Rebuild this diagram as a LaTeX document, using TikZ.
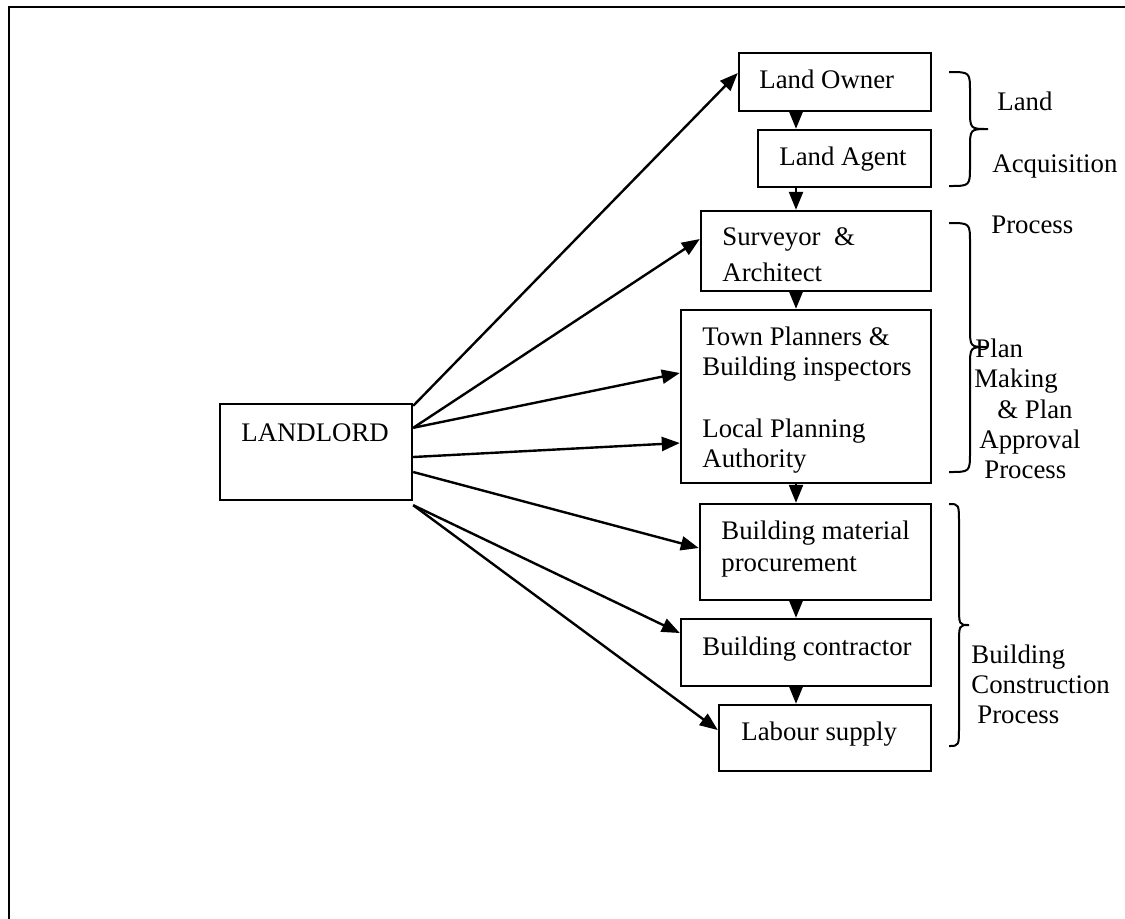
\documentclass[tikz,border=0pt]{standalone}
\usepackage{fontspec}
\setmainfont{Liberation Serif}
\usetikzlibrary{arrows.meta,calc}
\tikzset{
  box/.style={draw, line width=1.2pt, rectangle, inner sep=0pt},
  txt/.style={anchor=base west, inner sep=0pt, font=\fontsize{13.4pt}{15pt}\selectfont},
  arr/.style={line width=1.2pt, -{Triangle[length=9pt,width=7pt]}},
  brace/.style={line width=1pt},
  frame/.style={line width=1.4pt}
}
\newcommand\drawbrace[6]{% x0 x1 x2 ytop ymid ybot
  \draw[brace] (#1,#4) .. controls (#2,#4) .. (#2,#4+20) -- (#2,#5-20)
    .. controls (#2,#5) .. (#3,#5) .. controls (#2,#5) .. (#2,#5+20)
    -- (#2,#6-20) .. controls (#2,#6) .. (#1,#6);}
\begin{document}
\begin{tikzpicture}[x=0.5pt,y=-0.5pt]
\useasboundingbox (0,0) rectangle (1125,918);
\begin{scope}
\clip (0,0) rectangle (1125,918);
\draw[frame] (9,7) rectangle (1160,960);
\end{scope}

% boxes
\node[box, minimum width=96pt, minimum height=48pt] (ll) at (316,452) {};
\node[box, minimum width=96pt, minimum height=29pt] (lo) at (835,82) {};
\node[box, minimum width=86.5pt, minimum height=28.5pt] (la) at (844.5,158.5) {};
\node[box, minimum width=115pt, minimum height=40pt] (sa) at (816,251) {};
\node[box, minimum width=125pt, minimum height=86.5pt] (tp) at (806,396.5) {};
\node[box, minimum width=115.5pt, minimum height=48pt] (bm) at (815.5,552) {};
\node[box, minimum width=125pt, minimum height=33.5pt] (bc) at (806,652.5) {};
\node[box, minimum width=106pt, minimum height=33pt] (ls) at (825,738) {};

% box texts
\node[txt] (tll) at (241,441) {LANDLORD};
\node[txt] (tlo) at (759,88) {Land Owner};
\node[txt] (tla) at (779,165) {Land Agent};
\node[txt] (tsa1) at (722,245) {Surveyor\ \ \&};
\node[txt] (tsa2) at (722,281) {Architect};
\node[txt] (ttp1) at (702,345) {Town Planners \&};
\node[txt] (ttp2) at (702,375) {Building inspectors};
\node[txt] (ttp3) at (702,437) {Local Planning};
\node[txt] (ttp4) at (702,467) {Authority};
\node[txt] (tbm1) at (721,539) {Building material};
\node[txt] (tbm2) at (721,571) {procurement};
\node[txt] (tbc) at (702,655) {Building contractor};
\node[txt] (tls) at (741,740) {Labour supply};

% side labels
\node[txt] (g1a) at (997,110) {Land};
\node[txt] (g1b) at (992,172) {Acquisition};
\node[txt] (g1c) at (991,233) {Process};
\node[txt] (g2a) at (975,357) {Plan};
\node[txt] (g2b) at (974,387) {Making};
\node[txt] (g2c) at (997,418) {\& Plan};
\node[txt] (g2d) at (979,448) {Approval};
\node[txt] (g2e) at (984,478) {Process};
\node[txt] (g3a) at (971,663) {Building};
\node[txt] (g3b) at (971,693) {Construction};
\node[txt] (g3c) at (977,723) {Process};

% braces
\drawbrace{949}{970}{988}{72}{129}{186}
\drawbrace{949}{970}{987}{223}{347}{472}
\drawbrace{949}{959}{969}{504}{625}{746}

% vertical chain
\coordinate (col) at (796,0);
\draw[arr] (lo.south -| col) -- (la.north -| col);
\draw[arr] (la.south -| col) -- (sa.north -| col);
\draw[arr] (sa.south -| col) -- (tp.north -| col);
\draw[arr] (tp.south -| col) -- (bm.north -| col);
\draw[arr] (bm.south -| col) -- (bc.north -| col);
\draw[arr] (bc.south -| col) -- (ls.north -| col);

% landlord fan
\draw[arr] ($(ll.north east)+(0,3)$) -- ($(lo.west)+(0,-9)$);
\draw[arr] ($(ll.north east)+(0,25)$) -- ($(sa.west)+(0,-12)$);
\draw[arr] ($(ll.north east)+(0,25)$) -- ($(tp.west)+(0,-23.5)$);
\draw[arr] ($(ll.east)+(0,5)$) -- ($(tp.west)+(0,46.5)$);
\draw[arr] ($(ll.east)+(0,20)$) -- ($(bm.west)+(0,-4)$);
\draw[arr] ($(ll.south east)+(0,4)$) -- ($(bc.west)+(0,-19.5)$);
\draw[arr] ($(ll.south east)+(0,4)$) -- ($(ls.west)+(0,-8)$);
\end{tikzpicture}
\end{document}
